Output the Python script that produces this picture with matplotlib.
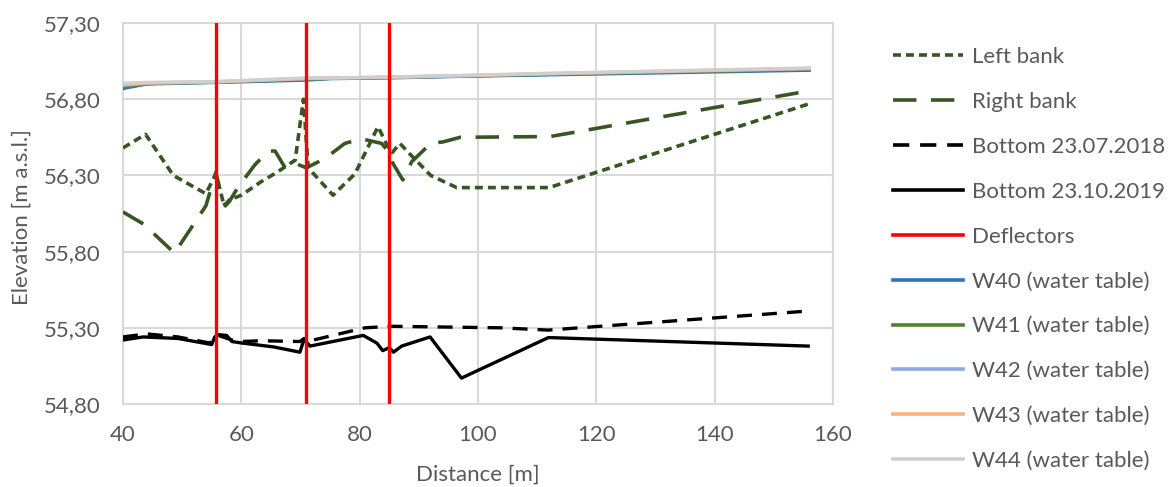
import matplotlib
matplotlib.use("Agg")
import matplotlib.pyplot as plt
from matplotlib.lines import Line2D
from matplotlib.ticker import FuncFormatter

# ---- data ----
left_x = [40, 43.8, 48.5, 54.0, 55.7, 57.1, 58.0, 60.0, 63.4, 66.0, 69.1, 70.5, 71.3, 75.5, 79.2, 83.1, 84.6, 85.5, 86.8, 88.5, 92.0, 96.4, 112.0, 156.0]
left_y = [56.48, 56.57, 56.30, 56.18, 56.31, 56.10, 56.14, 56.17, 56.26, 56.32, 56.40, 56.80, 56.35, 56.17, 56.31, 56.62, 56.50, 56.45, 56.51, 56.44, 56.30, 56.22, 56.22, 56.77]

right_x = [40, 43.5, 48.7, 54.0, 55.7, 56.7, 57.3, 58.0, 59.4, 62.3, 64.6, 65.7, 67.4, 69.0, 71.0, 74.1, 77.5, 80.3, 83.7, 85.0, 85.6, 87.3, 88.8, 92.0, 94.1, 97.0, 112.2, 156.0]
right_y = [56.06, 55.98, 55.79, 56.10, 56.32, 56.15, 56.10, 56.13, 56.22, 56.37, 56.46, 56.46, 56.35, 56.38, 56.35, 56.41, 56.51, 56.54, 56.51, 56.45, 56.38, 56.27, 56.39, 56.51, 56.52, 56.55, 56.555, 56.855]

b18_x = [40, 44.0, 49.3, 54.7, 55.5, 56.1, 58.4, 60.0, 63.4, 69.9, 70.6, 71.3, 72.2, 80.9, 85.4, 103.7, 111.9, 155.8]
b18_y = [55.24, 55.26, 55.24, 55.20, 55.24, 55.25, 55.22, 55.21, 55.215, 55.21, 55.23, 55.20, 55.22, 55.30, 55.31, 55.30, 55.285, 55.41]

b19_x = [40, 43.4, 49.3, 55.0, 55.5, 56.1, 57.5, 58.4, 60.1, 65.4, 69.9, 70.6, 71.6, 80.6, 82.9, 83.9, 85.0, 85.7, 87.1, 91.9, 97.2, 111.9, 155.8]
b19_y = [55.22, 55.24, 55.23, 55.19, 55.24, 55.255, 55.25, 55.21, 55.20, 55.175, 55.14, 55.225, 55.18, 55.25, 55.20, 55.15, 55.17, 55.14, 55.18, 55.24, 54.97, 55.236, 55.18]

deflectors = [55.7, 70.9, 85.0]

wt_x = [40, 44, 55.7, 70.9, 75, 85, 97, 112, 156]
w40 = [56.870, 56.900, 56.910, 56.925, 56.935, 56.940, 56.950, 56.960, 56.990]
w41 = [56.880, 56.902, 56.912, 56.930, 56.937, 56.942, 56.952, 56.963, 56.995]
w42 = [56.890, 56.905, 56.913, 56.934, 56.938, 56.943, 56.953, 56.966, 57.000]
w43 = [56.895, 56.906, 56.914, 56.936, 56.939, 56.944, 56.954, 56.968, 57.002]
w44 = [56.905, 56.910, 56.916, 56.940, 56.940, 56.946, 56.956, 56.970, 57.005]

x_ticks = [40, 60, 80, 100, 120, 140, 160]
y_ticks = [54.80, 55.30, 55.80, 56.30, 56.80, 57.30]

# ---- style ----
plt.rcParams['font.family'] = ["Lato", 'DejaVu Sans']
TXT = "#595959"
GREEN = "#375623"
FS = 16

fig = plt.figure(figsize=(11.71, 4.87), dpi=100)
ax = fig.add_axes([123/1171, 1 - 404/487, 710/1171, 381/487])

lw_w = 2.4
ax.plot(wt_x, w40, color="#2E75B6", lw=lw_w, label="W40 (water table)", zorder=3)
ax.plot(wt_x, w41, color="#548235", lw=lw_w, label="W41 (water table)", zorder=3.1)
ax.plot(wt_x, w42, color="#8FAADC", lw=lw_w, label="W42 (water table)", zorder=3.2)
ax.plot(wt_x, w43, color="#F4B183", lw=lw_w, label="W43 (water table)", zorder=3.3)
ax.plot(wt_x, w44, color="#D0CECE", lw=lw_w, label="W44 (water table)", zorder=3.4)

ax.plot(left_x, left_y, color=GREEN, lw=2.6, dashes=(2.2, 1.4), label="Left bank", zorder=4)
ax.plot(right_x, right_y, color=GREEN, lw=2.6, dashes=(6.5, 4.0), label="Right bank", zorder=4)
ax.plot(b18_x, b18_y, color="black", lw=2.4, dashes=(4.5, 3.0), label="Bottom 23.07.2018", zorder=4)
ax.plot(b19_x, b19_y, color="black", lw=2.4, label="Bottom 23.10.2019", zorder=4)
for d in deflectors:
    ax.axvline(d, color="#FF0000", lw=2.4, zorder=5)

ax.set_xlim(40, 160)
ax.set_ylim(54.80, 57.30)
ax.set_xticks(x_ticks)
ax.set_yticks(y_ticks)
ax.yaxis.set_major_formatter(FuncFormatter(lambda v, p: f"{v:.2f}".replace(".", ",")))
ax.grid(True, color="#D9D9D9", lw=1.5)
ax.set_axisbelow(True)
for s in ax.spines.values():
    s.set_color("#D9D9D9")
    s.set_linewidth(1.5)
ax.tick_params(length=0, labelsize=FS, colors=TXT)
ax.tick_params(axis='y', pad=16)
ax.tick_params(axis='x', pad=15)
ax.set_xlabel("Distance [m]", fontsize=FS, color=TXT, va='center')
ax.set_ylabel("Elevation [m a.s.l.]", fontsize=FS, color=TXT, va='center')
ax.xaxis.set_label_coords(0.5, (404 - 475) / 381)
ax.yaxis.set_label_coords((22 - 123) / 710, 0.49)

handles = [
    Line2D([], [], color=GREEN, lw=2.6, dashes=(2.2, 1.4)),
    Line2D([], [], color=GREEN, lw=2.6, dashes=(6.5, 4.0)),
    Line2D([], [], color="black", lw=2.6, dashes=(4.5, 3.0)),
    Line2D([], [], color="black", lw=2.6),
    Line2D([], [], color="#FF0000", lw=2.6),
    Line2D([], [], color="#2E75B6", lw=2.6),
    Line2D([], [], color="#548235", lw=2.6),
    Line2D([], [], color="#8FAADC", lw=2.6),
    Line2D([], [], color="#F4B183", lw=2.6),
    Line2D([], [], color="#D0CECE", lw=2.6),
]
labels = ["Left bank", "Right bank", "Bottom 23.07.2018", "Bottom 23.10.2019", "Deflectors",
          "W40 (water table)", "W41 (water table)", "W42 (water table)", "W43 (water table)", "W44 (water table)"]
leg = fig.legend(handles, labels, loc="upper left", bbox_to_anchor=(893/1171, 1 - 47/487),
                 frameon=False, fontsize=FS, labelcolor=TXT, handlelength=3.15,
                 handletextpad=0.4, labelspacing=1.12, borderpad=0, borderaxespad=0)

fig.savefig("out.png", dpi=100)
